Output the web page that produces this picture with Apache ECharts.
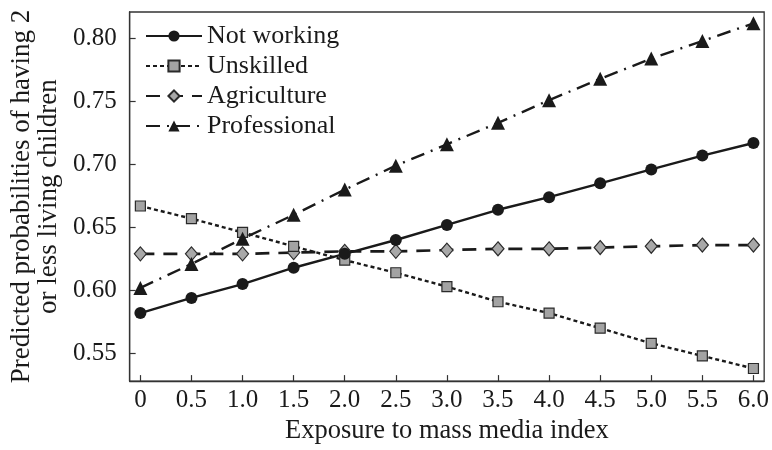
<!DOCTYPE html>
<html>
<head>
<meta charset="utf-8">
<script src="https://cdn.jsdelivr.net/npm/echarts@6/dist/echarts.min.js"></script>
<style>html,body{margin:0;padding:0;background:#fff}#c{width:772px;height:450px}</style>
</head>
<body>
<div id="c"></div>
<script>
var exposure = [0, 0.5, 1.0, 1.5, 2.0, 2.5, 3.0, 3.5, 4.0, 4.5, 5.0, 5.5, 6.0];
var xTickLabels = ['0', '0.5', '1.0', '1.5', '2.0', '2.5', '3.0', '3.5', '4.0', '4.5', '5.0', '5.5', '6.0'];
var yTicks = [0.55, 0.60, 0.65, 0.70, 0.75, 0.80];
var yTickLabels = ['0.55', '0.60', '0.65', '0.70', '0.75', '0.80'];
var notWorking = [0.582, 0.594, 0.605, 0.618, 0.629, 0.640, 0.652, 0.664, 0.674, 0.685, 0.696, 0.707, 0.717];
var unskilled = [0.667, 0.657, 0.646, 0.635, 0.624, 0.614, 0.603, 0.591, 0.582, 0.570, 0.558, 0.548, 0.538];
var agriculture = [0.629, 0.629, 0.629, 0.630, 0.631, 0.631, 0.632, 0.633, 0.633, 0.634, 0.635, 0.636, 0.636];
var professional = [0.602, 0.621, 0.641, 0.660, 0.680, 0.699, 0.716, 0.733, 0.751, 0.768, 0.784, 0.798, 0.812];
var seriesNames = ['Not working', 'Unskilled', 'Agriculture', 'Professional'];

function pairs(arr) { return exposure.map(function (x, i) { return [x, arr[i]]; }); }

var FONT = 'Liberation Serif';
var chart = echarts.init(document.getElementById('c'), null, { renderer: 'canvas' });
chart.setOption({
  backgroundColor: '#fff',
  animation: false,
  textStyle: { fontFamily: FONT, color: '#1a1a1a' },
  grid: { left: 126, right: 7, top: 12, bottom: 62, show: true, borderColor: '#333', borderWidth: 1.3, backgroundColor: 'transparent' },
  legend: {
    orient: 'vertical', left: 140, top: 18, itemWidth: 56, itemHeight: 14, itemGap: 4,
    textStyle: { fontFamily: FONT, fontSize: 26, color: '#1a1a1a' },
    data: seriesNames
  },
  xAxis: {
    type: 'value', min: -0.105, max: 6.105,
    name: 'Exposure to mass media index', nameLocation: 'middle', nameGap: 36,
    nameTextStyle: { fontFamily: FONT, fontSize: 26.5, color: '#1a1a1a' },
    axisLine: { show: true, onZero: false, lineStyle: { color: '#333', width: 1.3 } },
    axisTick: { show: true, inside: true, length: 6, lineStyle: { color: '#333', width: 1.2 }, customValues: exposure },
    axisLabel: { fontFamily: FONT, fontSize: 25, color: '#1a1a1a', margin: 7, customValues: exposure,
      formatter: function (v) { var i = exposure.indexOf(v); return i >= 0 ? xTickLabels[i] : ''; } },
    splitLine: { show: false }
  },
  yAxis: {
    type: 'value', min: 0.528, max: 0.821,
    name: 'Predicted probabilities of having 2\nor less living children', nameLocation: 'middle', nameGap: 63,
    nameTextStyle: { fontFamily: FONT, fontSize: 27, color: '#1a1a1a', lineHeight: 27 },
    axisLine: { show: true, onZero: false, lineStyle: { color: '#333', width: 1.3 } },
    axisTick: { show: true, inside: true, length: 6, lineStyle: { color: '#333', width: 1.2 }, customValues: yTicks },
    axisLabel: { fontFamily: FONT, fontSize: 25, color: '#1a1a1a', margin: 13, customValues: yTicks,
      formatter: function (v) { for (var i = 0; i < yTicks.length; i++) { if (Math.abs(yTicks[i] - v) < 1e-6) return yTickLabels[i]; } return ''; } },
    splitLine: { show: false }
  },
  series: [
    { name: seriesNames[0], type: 'line', data: pairs(notWorking), symbol: 'circle', symbolSize: 12,
      lineStyle: { color: '#1a1a1a', width: 2.4, type: 'solid' },
      itemStyle: { color: '#1a1a1a', borderColor: '#1a1a1a', borderWidth: 0 }, z: 5 },
    { name: seriesNames[1], type: 'line', data: pairs(unskilled), symbol: 'rect', symbolSize: 10,
      lineStyle: { color: '#1a1a1a', width: 2.4, type: [4, 3] },
      itemStyle: { color: '#a3a3a3', borderColor: '#2a2a2a', borderWidth: 1.2 }, z: 4 },
    { name: seriesNames[2], type: 'line', data: pairs(agriculture), symbol: 'diamond', symbolSize: [12, 14],
      lineStyle: { color: '#1a1a1a', width: 2.7, type: [14, 9] },
      itemStyle: { color: '#a8a8a8', borderColor: '#2a2a2a', borderWidth: 1.2 }, z: 3 },
    { name: seriesNames[3], type: 'line', data: pairs(professional), symbol: 'triangle', symbolSize: 14,
      lineStyle: { color: '#1a1a1a', width: 2.4, type: [14, 7, 2, 7] },
      itemStyle: { color: '#1a1a1a', borderColor: '#1a1a1a', borderWidth: 0 }, z: 6 }
  ]
});
</script>
</body>
</html>
